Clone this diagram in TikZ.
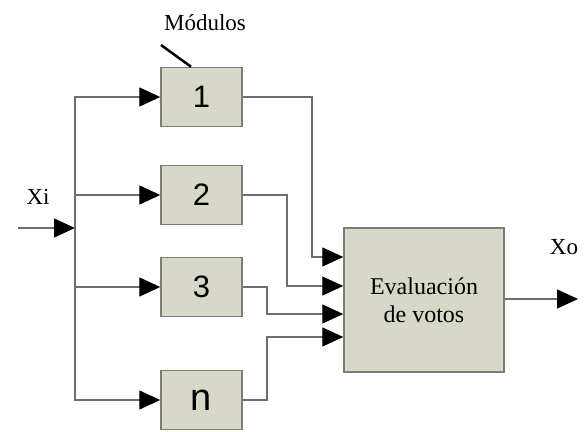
\documentclass[tikz,border=0pt]{standalone}
\usepackage{fontspec}
\setmainfont{Liberation Serif}
\newfontfamily\digitfont{Liberation Sans}
\usetikzlibrary{arrows.meta}
\definecolor{boxfill}{RGB}{216,216,200}
\definecolor{boxline}{RGB}{125,125,115}
\definecolor{wire}{RGB}{110,110,110}
\tikzset{
  modbox/.style={draw=boxline, line width=1.5pt, fill=boxfill, minimum width=81pt, minimum height=59pt, inner sep=0pt, font=\digitfont\fontsize{31}{31}\selectfont},
  evbox/.style={draw=boxline, line width=1.5pt, fill=boxfill, minimum width=160pt, minimum height=144pt, inner sep=0pt, align=center, font=\fontsize{24}{28}\selectfont},
  lbl/.style={font=\fontsize{23}{23}\selectfont, inner sep=0pt},
  wireline/.style={draw=wire, line width=1.4pt},
  arr/.style={wireline, -{Triangle[length=21pt,width=19pt,color=black]}}
}
\begin{document}
\begin{tikzpicture}[x=1pt,y=-1pt]
\useasboundingbox (0,0) rectangle (588,431);
% modules
\node[modbox] (m1) at (201.5,97) {1};
\node[modbox] (m2) at (201.5,195) {2};
\node[modbox] (m3) at (201.5,287) {3};
\node[modbox] (mn) at (201.5,400) {\fontsize{38}{38}\selectfont n};
% voting box
\node[evbox] (ev) at (424,300) {Evaluación\\de votos};
% labels
\node[lbl] (mod) at (205,23) {Módulos};
\node[lbl] (xi) at (38,197) {Xi};
\node[lbl] (xo) at (564,247) {Xo};
\coordinate (pt) at (161,45);
\draw[line width=2.5pt] (pt) -- (m1.north west -| 191,0) ;
% input
\coordinate (in) at (18,228);
\coordinate (j) at (75,228);
\draw[arr] (in) -- (j);
\draw[arr] (j) |- (m1.west);
\draw[arr] (j) |- (m2.west);
\draw[arr] (j) |- (m3.west);
\draw[arr] (j) |- (mn.west);
% inputs of voting box
\coordinate (e1) at (ev.west |- 0,257);
\coordinate (e2) at (ev.west |- 0,286);
\coordinate (e3) at (ev.west |- 0,314);
\coordinate (e4) at (ev.west |- 0,337);
\draw[arr] (m1.east) -| (312,257) -- (e1);
\draw[arr] (m2.east) -| (287,286) -- (e2);
\draw[arr] (m3.east) -| (267,314) -- (e3);
\draw[arr] (mn.east) -| (267,337) -- (e4);
% output
\coordinate (out) at (578,299);
\draw[arr] (ev.east |- out) -- (out);
\end{tikzpicture}
\end{document}
